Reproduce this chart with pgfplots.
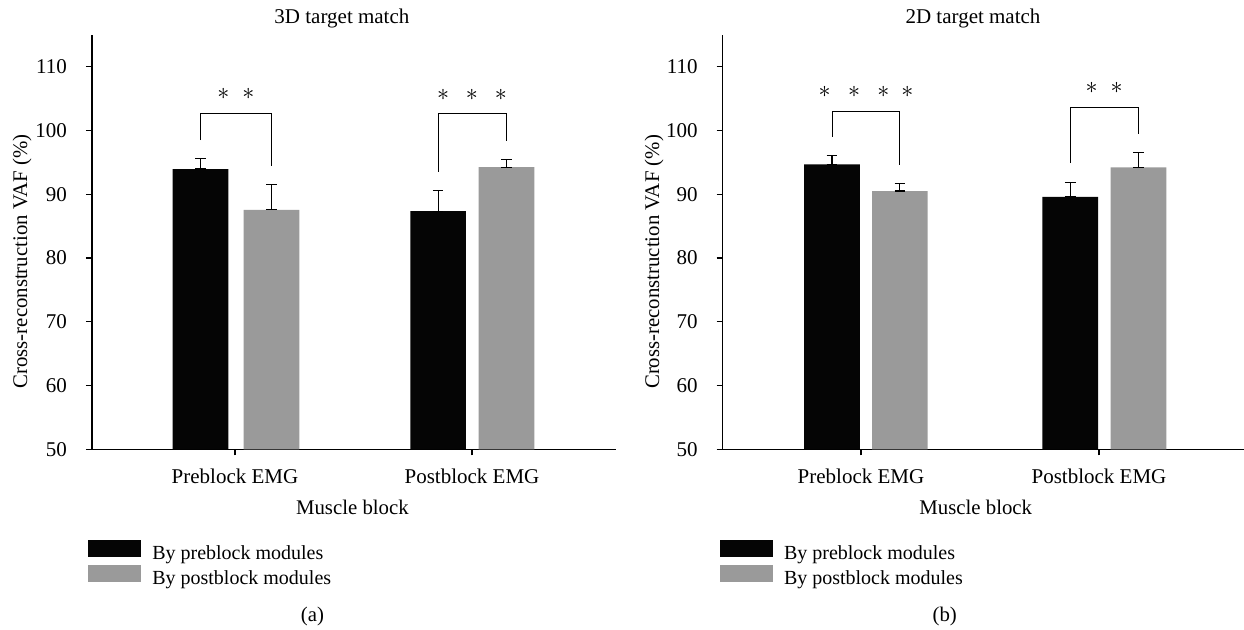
\documentclass[border=0pt]{standalone}
\usepackage{pgfplots}
\pgfplotsset{compat=1.18}
\usepackage{fontspec}
\setmainfont{Liberation Serif}
\definecolor{barblack}{RGB}{5,5,5}
\definecolor{bargray}{RGB}{154,154,154}
\pgfplotsset{
  panel/.style={
    scale only axis,
    axis x line=bottom, axis y line=left,
    axis line style={-, line width=0.7pt, black},
    ymin=50, ymax=115,
    ytick={50,60,...,110},
    xtick={0,1},
    xticklabels={Preblock EMG, Postblock EMG},
    tick align=outside,
    major tick length=3pt,
    tick style={line width=0.7pt, black},
    /pgf/number format/assume math mode=true,
    every tick label/.append style={font=\fontsize{10.5}{12}\selectfont},
    yticklabel style={anchor=east, inner sep=0pt, xshift=-9.35pt},
    xticklabel style={anchor=base, inner sep=0pt, yshift=-14.2pt},
    label style={font=\fontsize{10.4}{12}\selectfont},
    title style={font=\fontsize{10.5}{12}\selectfont, anchor=base, inner sep=0pt, yshift=-6pt},
    ylabel style={anchor=base, inner sep=0pt},
    xlabel style={anchor=base, inner sep=0pt},
    ylabel={Cross-reconstruction VAF (\%)},
    xlabel={Muscle block},
    legend cell align=left,
    legend image code/.code={\fill[##1] (0pt,-0.8pt) rectangle (26.5pt,7.6pt);},
    legend style={draw=none, fill=none, inner sep=0pt, outer sep=0pt, anchor=north west,
      font=\fontsize{10}{12}\selectfont, row sep=-0.8pt, column sep=4.5pt,
      nodes={inner sep=1pt, text height=7pt, text depth=2.5pt}},
    clip=false,
  },
  errb/.style={error bars/.cd, y dir=both, y explicit,
    error bar style={line width=0.6pt, black},
    error mark options={rotate=90, mark size=2.67pt, line width=0.6pt, black}},
}
\begin{document}
\begin{tikzpicture}
\path[use as bounding box] (0,0) rectangle (622pt,-314.5pt);

% ---------------- panel (a) ----------------
\begin{axis}[panel,
  at={(46pt,-224.65pt)}, anchor=south west,
  width=262pt, height=207.25pt,
  xmin=-0.6034, xmax=1.6076,
  title={3D target match},
  title style={at={(axis description cs:0.477,1.0278)}},
  ylabel style={at={(axis description cs:-0.124,0.453)}},
  xlabel style={at={(axis description cs:0.497,-0.1574)}},
  legend style={at={(axis description cs:-0.00706,-0.2188)}},
]
\addplot[ybar, bar width=0.2346, bar shift=0pt, fill=barblack, draw=none, errb]
  coordinates {(-0.1456,93.95) += (0,1.65) -= (0,0)  (0.857,87.35) += (0,3.2) -= (0,0)};
\addlegendentry{By preblock modules}
\addplot[ybar, bar width=0.2346, bar shift=0pt, fill=bargray, draw=none, errb]
  coordinates {(0.154,87.55) += (0,4.0) -= (0,0)  (1.1456,94.25) += (0,1.2) -= (0,0)};
\addlegendentry{By postblock modules}
\draw[line width=0.5pt] (axis cs:-0.1456,98.5) |- (axis cs:0.154,102.7) -- (axis cs:0.154,94.5);
\draw[line width=0.5pt] (axis cs:0.857,93.5) |- (axis cs:1.1456,102.6) -- (axis cs:1.1456,98.4);
\node[font=\fontsize{11.5}{12}\selectfont] at (axis cs:0.004,105.7) {$\ast\hspace{6.5pt}\ast$};
\node[font=\fontsize{11.5}{12}\selectfont] at (axis cs:1.0,105.5) {$\ast\hspace{5.8pt}\ast\hspace{5.8pt}\ast$};
\end{axis}

% ---------------- panel (b) ----------------
\begin{axis}[panel,
  at={(361.35pt,-224.65pt)}, anchor=south west,
  width=260.9pt, height=207.25pt,
  xmin=-0.5811, xmax=1.6113,
  title={2D target match},
  title style={at={(axis description cs:0.4797,1.0278)}},
  ylabel style={at={(axis description cs:-0.1217,0.452)}},
  xlabel style={at={(axis description cs:0.485,-0.1574)}},
  legend style={at={(axis description cs:-0.00517,-0.2188)}},
]
\addplot[ybar, bar width=0.2336, bar shift=0pt, fill=barblack, draw=none, errb]
  coordinates {(-0.1218,94.7) += (0,1.35) -= (0,0)  (0.879,89.6) += (0,2.3) -= (0,0)};
\addlegendentry{By preblock modules}
\addplot[ybar, bar width=0.2336, bar shift=0pt, fill=bargray, draw=none, errb]
  coordinates {(0.1634,90.5) += (0,1.2) -= (0,0)  (1.166,94.2) += (0,2.3) -= (0,0)};
\addlegendentry{By postblock modules}
\draw[line width=0.5pt] (axis cs:-0.1218,99.0) |- (axis cs:0.1634,103.0) -- (axis cs:0.1634,94.6);
\draw[line width=0.5pt] (axis cs:0.879,94.9) |- (axis cs:1.166,103.6) -- (axis cs:1.166,99.5);
\node[font=\fontsize{11.5}{12}\selectfont] at (axis cs:0.021,106.1) {$\ast\hspace{6pt}\ast\hspace{6pt}\ast\hspace{6pt}\ast$};
\node[font=\fontsize{11.5}{12}\selectfont] at (axis cs:1.022,106.6) {$\ast\hspace{6.5pt}\ast$};
\end{axis}

\node[anchor=base, font=\fontsize{10.4}{12}\selectfont] at (156.25pt,-310.5pt) {(a)};
\node[anchor=base, font=\fontsize{10.4}{12}\selectfont] at (472.35pt,-310.5pt) {(b)};
\end{tikzpicture}
\end{document}
